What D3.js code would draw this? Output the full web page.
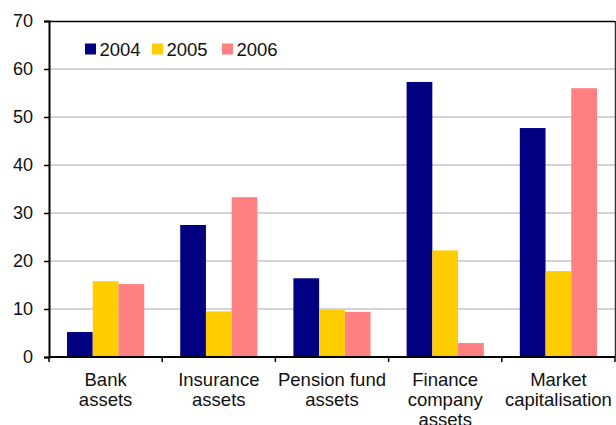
<!DOCTYPE html>
<html><head><meta charset="utf-8">
<script src="https://cdn.jsdelivr.net/npm/d3@7"></script>
<style>body{margin:0;background:#fff}svg{display:block;font-family:"Liberation Sans",Arial,sans-serif}</style>
</head><body><div id="c"></div>
<script>
const categories = [["Bank","assets"],["Insurance","assets"],["Pension fund","assets"],["Finance","company","assets"],["Market","capitalisation"]];
const series = ["2004","2005","2006"];
const values2004 = [5.2, 27.5, 16.4, 57.3, 47.7];
const values2005 = [15.8, 9.5, 9.8, 22.2, 17.9];
const values2006 = [15.2, 33.3, 9.4, 2.9, 56.0];
const yTicks = [0,10,20,30,40,50,60,70];
const colors = ["#000080","#FFCC00","#FF8080"];

const W=616,H=425;
const m={l:49,r:1,t:21,b:68};
const svg=d3.select("#c").append("svg").attr("width",W).attr("height",H);
const x=d3.scaleBand().domain(d3.range(categories.length)).range([m.l,W-m.r]).paddingInner(0).paddingOuter(0);
const y=d3.scaleLinear().domain([0,70]).range([H-m.b,m.t]);
const data=[values2004,values2005,values2006];
const inner=d3.scaleBand().domain(series).range([0,x.bandwidth()]).paddingInner(0).paddingOuter(0.7);

// gridlines
svg.append("g").selectAll("line").data(yTicks.filter(d=>d>0&&d<70)).join("line")
 .attr("x1",m.l).attr("x2",W-m.r).attr("y1",d=>y(d)).attr("y2",d=>y(d))
 .attr("stroke","#d4d4d4").attr("stroke-width",2);

// bars
series.forEach((s,i)=>{
 svg.append("g").selectAll("rect").data(data[i]).join("rect")
  .attr("x",(d,j)=>x(j)+inner(s)).attr("width",inner.bandwidth())
  .attr("y",d=>y(d)).attr("height",d=>y(0)-y(d)).attr("fill",colors[i]);
});

// frame top and right
svg.append("line").attr("x1",m.l).attr("x2",W-m.r).attr("y1",m.t+0.5).attr("y2",m.t+0.5).attr("stroke","#000").attr("stroke-width",1.5);
svg.append("line").attr("x1",W-m.r+0.5).attr("x2",W-m.r+0.5).attr("y1",m.t).attr("y2",H-m.b).attr("stroke","#333").attr("stroke-width",1.5);

// y axis
const ya=svg.append("g").attr("transform",`translate(${m.l},0)`)
 .call(d3.axisLeft(y).tickValues(yTicks).tickSize(5).tickPadding(11));
ya.select(".domain").attr("stroke","#000").attr("stroke-width",2);
ya.selectAll(".tick line").attr("stroke","#000").attr("stroke-width",1.5);
ya.selectAll("text").attr("font-size",18).attr("fill","#111").attr("font-family","Liberation Sans, Arial, sans-serif");

// x axis
const bounds=d3.range(categories.length+1).map(i=>m.l+i*x.bandwidth());
svg.append("line").attr("x1",m.l).attr("x2",W-m.r).attr("y1",y(0)).attr("y2",y(0)).attr("stroke","#000").attr("stroke-width",2);
svg.append("g").selectAll("line").data(bounds).join("line")
 .attr("x1",d=>d).attr("x2",d=>d).attr("y1",y(0)).attr("y2",y(0)+5).attr("stroke","#000").attr("stroke-width",1.5);
const cl=svg.append("g").selectAll("text").data(categories).join("text")
 .attr("x",(d,i)=>x(i)+x.bandwidth()/2).attr("y",386)
 .attr("text-anchor","middle").attr("font-size",18.5).attr("fill","#111");
cl.selectAll("tspan").data(d=>d).join("tspan")
 .attr("x",function(){return this.parentNode.getAttribute("x");})
 .attr("dy",(d,i)=>i===0?0:20).text(d=>d);

// legend
const lg=svg.append("g");
const lx=[85,152,222];
series.forEach((s,i)=>{
 lg.append("rect").attr("x",lx[i]).attr("y",43.5).attr("width",11).attr("height",11).attr("fill",colors[i]);
 lg.append("text").attr("x",lx[i]+14.5).attr("y",56).attr("font-size",18.5).attr("fill","#111").text(s);
});
</script></body></html>
